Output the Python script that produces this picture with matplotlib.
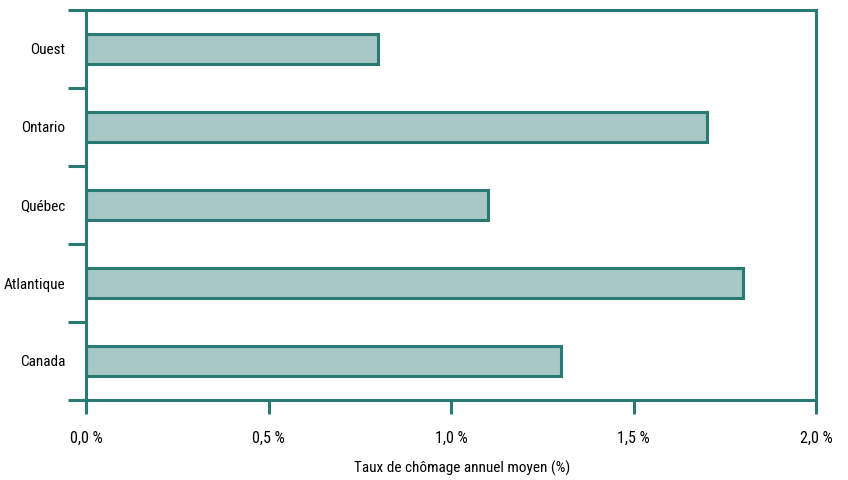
import matplotlib
matplotlib.use("Agg")
import matplotlib.pyplot as plt
from matplotlib import font_manager
import numpy as np

categories = ["Canada", "Atlantique", "Québec", "Ontario", "Ouest"]
values = [1.3, 1.8, 1.1, 1.7, 0.8]
xticks = [0.0, 0.5, 1.0, 1.5, 2.0]
xticklabels = ["0,0 %", "0,5 %", "1,0 %", "1,5 %", "2,0 %"]
xlabel = "Taux de chômage annuel moyen (%)"

avail = {f.name for f in font_manager.fontManager.ttflist}
fam = None
for cand in ["Liberation Sans Narrow", "DejaVu Sans Condensed", "Roboto Condensed",
             "Open Sans Condensed", "Noto Sans Condensed"]:
    if cand in avail:
        fam = cand
        break
fs = 11
if fam is None:
    fam = "Roboto"
    fs = 10
plt.rcParams['font.family'] = [fam, 'DejaVu Sans']
plt.rcParams['font.stretch'] = 'condensed'

teal = "#2a7a73"
fill = "#a7c8c5"

fig = plt.figure(figsize=(8.48, 4.8), dpi=100)
ax = fig.add_axes([86/848, 80/480, 730/848, 390/480])

y = np.arange(len(categories))
ax.barh(y, values, height=0.39, color=fill, edgecolor=teal, linewidth=2.2)

ax.set_xlim(0, 2.0)
ax.set_ylim(-0.5, 4.5)
for s in ax.spines.values():
    s.set_color(teal)
    s.set_linewidth(2.2)

ax.set_xticks(xticks)
ax.set_xticklabels(xticklabels, fontsize=fs + 0.5)
ax.set_yticks(np.arange(-0.5, 5.0, 1.0))
ax.set_yticklabels([])
ax.set_yticks(y, minor=True)
ax.set_yticklabels(categories, minor=True, fontsize=fs)
ax.tick_params(axis='y', which='major', length=13, width=2.2, color=teal, direction='out')
ax.tick_params(axis='y', which='minor', length=0, pad=15)
ax.tick_params(axis='x', length=10, width=2.2, color=teal, direction='out', pad=12)
ax.set_xlabel(xlabel, fontsize=fs, labelpad=12)
ax.xaxis.set_label_coords(0.515, -0.155)

fig.savefig("out.png", dpi=100)
